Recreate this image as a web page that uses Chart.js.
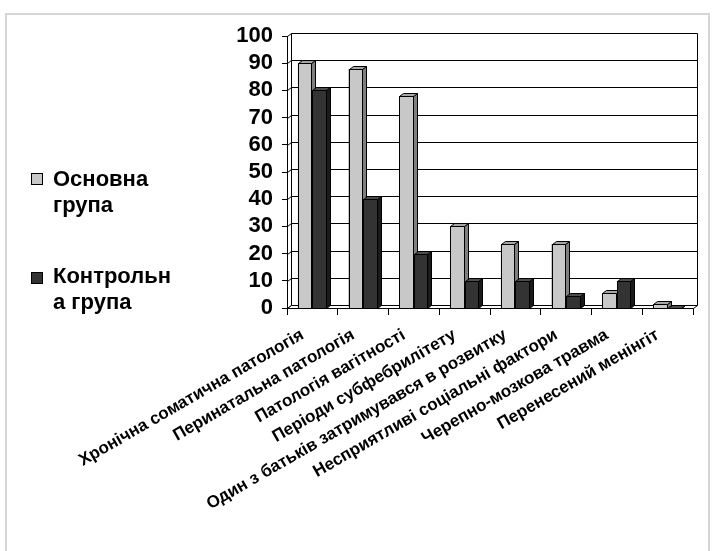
<!DOCTYPE html>
<html>
<head>
<meta charset="utf-8">
<script src="https://cdn.jsdelivr.net/npm/chart.js@4/dist/chart.umd.min.js"></script>
<style>
  html, body { margin: 0; padding: 0; background: #fff; }
  #wrap { position: relative; width: 715px; height: 551px; overflow: hidden; }
  #frame { position: absolute; left: 5px; top: 13px; width: 701px; height: 600px; border: 2px solid #d6d6d6; }
  canvas { position: absolute; left: 0; top: 0; }
  .key { position: absolute; left: 53px; font: bold 22px "Liberation Sans", Arial, sans-serif; line-height: 26px; color: #000; }
  .swatch { position: absolute; width: 10px; height: 10px; border: 1px solid #000; }
</style>
</head>
<body>
<div id="wrap">
  <div id="frame"></div>
  <canvas id="c" width="715" height="551"></canvas>
  <div class="swatch" style="left:31px;top:173px;background:#c8c8c8"></div>
  <div class="key" style="top:166px">Основна<br>група</div>
  <div class="swatch" style="left:31px;top:272px;background:#333333"></div>
  <div class="key" style="top:263px">Контрольн<br>а група</div>
</div>
<script>
// Risk factors, % of children in each group
const categories = [
  "Хронічна соматична патологія",
  "Перинатальна патологія",
  "Патологія вагітності",
  "Періоди субфебрилітету",
  "Один з батьків затримувався в розвитку",
  "Несприятливі соціальні фактори",
  "Черепно-мозкова травма",
  "Перенесений менінгіт"
];
const mainGroup = [90, 88, 78, 30, 23.5, 23.5, 5.5, 1.5];
const controlGroup = [80, 40, 20, 10, 10, 4.5, 10, 0];
const seriesNames = ["Основна група", "Контрольна група"];
const yTicks = [0, 10, 20, 30, 40, 50, 60, 70, 80, 90, 100];

// depth of the pseudo-3D extrusion
const DX = 4, DY = 3;
const faces = [
  { front: "#c8c8c8", side: "#7f7f7f", top: "#a6a6a6" },
  { front: "#333333", side: "#1a1a1a", top: "#4d4d4d" }
];

function poly(ctx, pts, fill) {
  ctx.beginPath();
  ctx.moveTo(pts[0][0], pts[0][1]);
  for (let i = 1; i < pts.length; i++) ctx.lineTo(pts[i][0], pts[i][1]);
  ctx.closePath();
  if (fill) { ctx.fillStyle = fill; ctx.fill(); }
  ctx.stroke();
}

const box3d = {
  id: "box3d",
  beforeDatasetsDraw(chart) {
    const ctx = chart.ctx, y = chart.scales.y, a = chart.chartArea;
    const L = a.left + 0.5, R = a.right + 0.5;
    ctx.save();
    ctx.strokeStyle = "#000";
    ctx.lineWidth = 1;
    // back wall with gridlines, left wall diagonals
    yTicks.forEach(v => {
      const py = Math.round(y.getPixelForValue(v)) + 0.5;
      ctx.beginPath();
      ctx.moveTo(L, py);
      ctx.lineTo(L + DX, py - DY);
      ctx.lineTo(R + DX, py - DY);
      ctx.stroke();
    });
    const top = Math.round(y.getPixelForValue(100)) + 0.5;
    const bot = Math.round(y.getPixelForValue(0)) + 0.5;
    ctx.beginPath();
    ctx.moveTo(L + DX, top - DY); ctx.lineTo(L + DX, bot - DY);
    ctx.moveTo(R + DX, top - DY); ctx.lineTo(R + DX, bot - DY);
    ctx.stroke();
    // floor slab
    poly(ctx, [[L, bot], [R, bot], [R + DX, bot - DY], [L + DX, bot - DY]], "#ffffff");
    ctx.restore();
  },
  // boxes are painted series by series, left to right, so each front hides the neighbour's side
  afterDatasetsDraw(chart) {
    const ctx = chart.ctx;
    ctx.save();
    ctx.strokeStyle = "#000";
    ctx.lineWidth = 1;
    chart.data.datasets.forEach((ds, di) => {
      const f = faces[di];
      chart.getDatasetMeta(di).data.forEach(el => {
        const p = el.getProps(["x", "y", "base", "width"], true);
        const l = Math.round(p.x - p.width / 2) + 0.5;
        const r = Math.round(p.x + p.width / 2) - 0.5;
        const t = Math.round(Math.min(p.y, p.base)) + 0.5;
        const b = Math.round(p.base) + 0.5;
        poly(ctx, [[l, t], [r, t], [r, b], [l, b]], f.front);
        poly(ctx, [[r, t], [r + DX, t - DY], [r + DX, b - DY], [r, b]], f.side);
        poly(ctx, [[l, t], [l + DX, t - DY], [r + DX, t - DY], [r, t]], f.top);
      });
    });
    ctx.restore();
  }
};

new Chart(document.getElementById("c"), {
  type: "bar",
  data: {
    labels: categories,
    datasets: [
      { label: seriesNames[0], data: mainGroup, backgroundColor: faces[0].front,
        borderColor: "#000", borderWidth: 1, borderSkipped: false },
      { label: seriesNames[1], data: controlGroup, backgroundColor: faces[1].front,
        borderColor: "#000", borderWidth: 1, borderSkipped: false }
    ]
  },
  options: {
    responsive: false,
    animation: false,
    devicePixelRatio: 1,
    layout: { padding: { top: 36, right: 22, left: 0, bottom: 0 } },
    datasets: { bar: { barPercentage: 1, categoryPercentage: 0.575 } },
    plugins: { legend: { display: false }, tooltip: { enabled: false } },
    scales: {
      x: {
        afterFit(s) { s.height = 243; },
        border: { display: true, color: "#000", width: 1 },
        grid: { drawOnChartArea: false, drawTicks: true, tickLength: 7, color: "#000", offset: true },
        ticks: {
          color: "#000", autoSkip: false, minRotation: 30, maxRotation: 30,
          padding: 10, labelOffset: -10,
          font: { family: "Liberation Sans", size: 17, weight: "bold" }
        }
      },
      y: {
        min: 0, max: 100,
        afterFit(s) { s.width = 287; },
        border: { display: true, color: "#000", width: 1 },
        grid: { drawOnChartArea: false, drawTicks: true, tickLength: 5, color: "#000" },
        ticks: {
          stepSize: 10, autoSkip: false, color: "#000", padding: 9,
          font: { family: "Liberation Sans", size: 22, weight: "bold" }
        }
      }
    }
  },
  plugins: [box3d]
});
</script>
</body>
</html>
